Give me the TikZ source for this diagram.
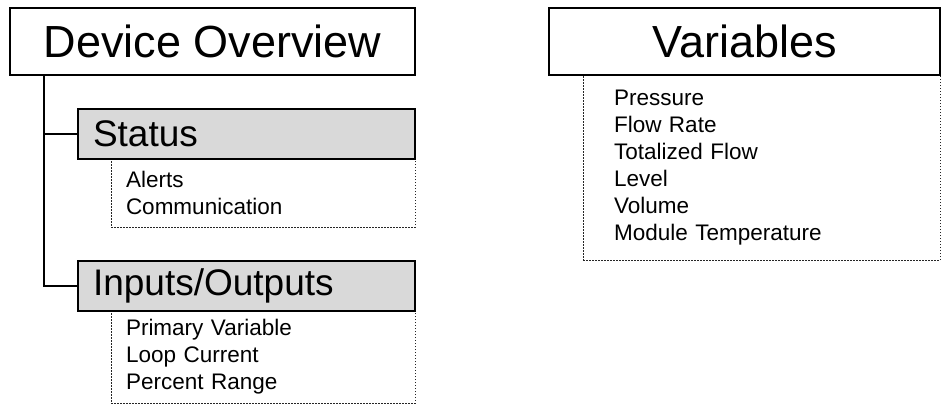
\documentclass[tikz,border=0pt]{standalone}
\usepackage{fontspec}
\setmainfont{Liberation Sans}
\usepackage{xcolor}
\usepackage{tikz}
\usetikzlibrary{positioning}

\definecolor{headgray}{HTML}{D9D9D9}

\begin{document}
\begin{tikzpicture}[x=1pt, y=-1pt,
  topbox/.style={draw, line width=2pt, outer sep=0pt, inner sep=0pt, anchor=north west, minimum height=67pt, font=\fontsize{45}{54}\selectfont},
  subbox/.style={draw, line width=2pt, outer sep=0pt, fill=headgray, anchor=north west, minimum height=50pt, text width=307pt, inner xsep=15pt, inner ysep=0pt, align=left, font=\fontsize{37}{44}\selectfont},
  listbox/.style={draw=black!85, line width=1pt, dash pattern=on 1.5pt off 1.5pt, outer sep=0pt, anchor=north west, inner xsep=15pt, inner ysep=0pt, align=left, font=\fontsize{22.5}{27}\selectfont}]
\useasboundingbox (0,0) rectangle (947,407);

% Item lists
\node (statuslist) at (111,159) [listbox, text width=274pt, minimum height=68pt] {Alerts\\Communication};
\node (iolist) at (111,311) [listbox, text width=274pt, minimum height=92pt] {Primary Variable\\Loop Current\\Percent Range};
\node (varlist) at (583,75) [listbox, inner xsep=31pt, text width=295pt, minimum height=185pt] {Pressure\\Flow Rate\\Totalized Flow\\Level\\Volume\\Module Temperature};

% Define the entities
\node (overview) at (10,8) [topbox, minimum width=405pt] {Device Overview};
\node (status) at (78,109) [subbox] {Status};
\node (inout) at (78,261) [subbox] {Inputs/Outputs};
\node (variables) at (549,8) [topbox, minimum width=391pt] {Variables};

% Tree
\coordinate (trunk) at ([xshift=34pt]overview.south west);
\draw [line width=2pt] (trunk) |- (status.west);
\draw [line width=2pt] (trunk) |- (inout.west);
\end{tikzpicture}
\end{document}
